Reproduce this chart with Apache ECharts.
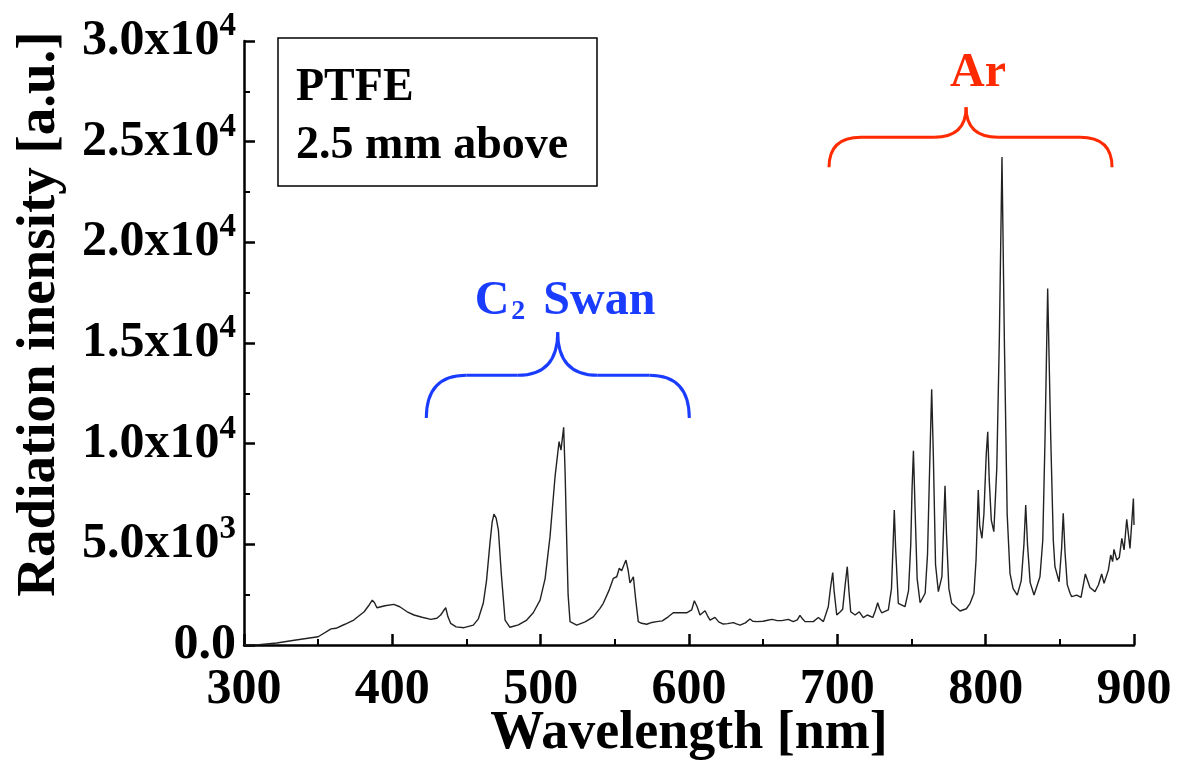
<!DOCTYPE html>
<html>
<head>
<meta charset="utf-8">
<script src="https://cdn.jsdelivr.net/npm/echarts@6/dist/echarts.min.js"></script>
<style>html,body{margin:0;padding:0;background:#fff;}#chart{width:1178px;height:760px;}</style>
</head>
<body>
<div id="chart"></div>
<script>
// ---- data ----
const wavelength = [
300,310,322,335,350,358.7,362,368,374,381,384.5,386.5,388,389.6,395,401,405,410,414.6,420,426,430,432.6,434.5,436,437.5,439.3,443,448.3,454.6,458,461.3,463.5,465.8,467.3,468.5,470,471.5,473.5,476,479.3,485,490.6,495,499.6,503,506.3,509.7,512.4,513.7,515.5,516.5,517.6,518.5,519.8,524.3,530,535.5,540,542.2,546,549,551.3,553,554.6,556,557.5,559,560.2,561.5,562.5,564,565.8,568,571.5,575,578.2,582,586,589.4,595,598.4,601.8,603.6,605.5,607.4,610.8,612.5,614.2,617.5,620,623.1,626,629.9,632,634.4,638,641.1,643,645.6,650,653,655.8,659,662.5,667,670.3,673,674.8,676.5,678.2,683.8,687.2,690.6,693.9,695.5,696.9,697.8,699.6,700.7,702,703.6,705.3,706.7,707.8,709,712,714.8,717.5,720.2,723.9,725.6,727.2,728.5,729.9,734.4,736.5,737.6,738.4,739.3,741.1,745.6,748,749.5,750.4,751.3,752.3,753.8,755.8,759.2,760.8,762.3,763.6,764.7,766.2,768.1,770.5,771.7,772.6,773.6,775.2,777.1,782.7,787,789.5,792.1,793.5,794.3,795,796,797.5,798.8,800.4,801.4,802.4,803.8,805.5,807.5,809.2,811,812.6,814.5,816.4,818.5,821.3,824,825.8,827,828.2,830,832.6,836.6,838.5,840,841.8,843.9,845.6,846.7,849.5,851.2,852.3,853.5,855,856.9,858,861.4,864.3,867.2,870.3,873.7,876,878.2,879.8,882.7,884.3,885.6,886.5,888.4,890.1,891.8,893.3,895.1,897.3,899.6,900
];
const intensity = [
0,10,100,250,410,800,830,1030,1240,1650,2000,2230,2100,1850,1950,2020,1900,1650,1490,1380,1275,1330,1490,1700,1850,1400,1075,900,860,990,1300,2070,3200,5050,6100,6500,6300,5710,3500,1240,880,1000,1240,1600,2230,3300,5380,8360,10100,9680,10810,8500,5050,2500,1160,990,1150,1400,1820,2070,2700,3310,3390,3810,3690,3950,4220,3700,3090,3250,3390,2300,1160,1080,1030,1120,1160,1200,1400,1600,1600,1600,1740,2200,1900,1490,1700,1450,1240,1370,1150,1040,1060,1110,1050,990,1100,1290,1180,1160,1180,1230,1275,1220,1210,1275,1160,1250,1470,1300,1160,1160,1370,1160,1900,2900,3600,2700,1490,1400,1650,1770,3000,3890,2700,1650,1490,1650,1360,1490,1370,1700,2100,1800,1600,1740,2800,5000,6700,4800,2070,1900,2700,5000,7800,9650,7000,3300,2100,2570,4500,9000,12700,9500,4000,2650,3400,6000,7910,5500,2800,2070,1690,1800,2070,2570,4200,6000,7700,5900,5300,6500,9500,10590,8200,6200,5630,8800,15150,24240,15150,6500,3560,2800,2480,3200,5000,6950,5000,3100,2480,3390,5200,10180,17710,10180,5200,3890,3140,4800,6540,4600,3000,2570,2400,2480,2370,3530,2860,2650,2980,3530,3060,3720,4470,4140,4750,4220,4350,5300,4720,6240,4800,7280,5960
];
const xTicks = [300, 400, 500, 600, 700, 800, 900];
const yTicks = [0, 5000, 10000, 15000, 20000, 25000, 30000];
const boxLines = ['PTFE', '2.5 mm above'];
// annotation braces: [xStart, xEnd, xCusp, yEnds, yBar, yCusp] in data units
const braceBlue = [422.9, 600.2, 511.5, 11270, 13400, 15540];
const braceRed = [694.4, 885.2, 786.8, 23730, 25220, 26710];
const labelBlue = {x: 516.4, y: 17050};
const labelRed = {x: 794.8, y: 28400};

const FONT = '"Liberation Serif", "Times New Roman", serif';
const BLUE = '#1a3cff';
const RED = '#ff2a00';

const seriesData = wavelength.map((w, i) => [w, intensity[i]]);

function yFmt(v) {
  if (v === 0) return '0.0';
  const e = Math.floor(Math.log10(v) + 1e-9);
  const m = (v / Math.pow(10, e)).toFixed(1);
  return m + 'x10{sup|' + e + '}';
}

const chart = echarts.init(document.getElementById('chart'));
chart.setOption({
  animation: false,
  backgroundColor: '#fff',
  grid: {left: 244, right: 44, top: 41, bottom: 115, containLabel: false, outerBoundsMode: 'none'},
  xAxis: {
    type: 'value', min: xTicks[0], max: xTicks[xTicks.length - 1], interval: 100,
    name: 'Wavelength [nm]', nameLocation: 'middle', nameGap: 89, nameMoveOverlap: false,
    nameTextStyle: {fontFamily: FONT, fontWeight: 'bold', fontSize: 54, color: '#000', verticalAlign: 'middle'},
    axisLine: {show: true, lineStyle: {color: '#000', width: 2.5}},
    axisTick: {show: true, inside: true, length: 11, lineStyle: {color: '#000', width: 2.5}},
    minorTick: {show: true, splitNumber: 2, length: 6, lineStyle: {color: '#000', width: 2}},
    splitLine: {show: false},
    axisLabel: {fontFamily: FONT, fontWeight: 'bold', fontSize: 50, color: '#000', margin: 20}
  },
  yAxis: {
    type: 'value', min: yTicks[0], max: yTicks[yTicks.length - 1], interval: 5000,
    axisLine: {show: true, lineStyle: {color: '#000', width: 2.5}},
    axisTick: {show: true, inside: true, length: 11, lineStyle: {color: '#000', width: 2.5}},
    minorTick: {show: true, splitNumber: 2, length: 6, lineStyle: {color: '#000', width: 2}},
    splitLine: {show: false},
    axisLabel: {
      fontFamily: FONT, fontWeight: 'bold', fontSize: 50, color: '#000', margin: 8,
      lineHeight: 62, formatter: yFmt,
      rich: {sup: {fontFamily: FONT, fontWeight: 'bold', fontSize: 33, color: '#000', verticalAlign: 'top', lineHeight: 30}}
    }
  },
  series: [{
    type: 'line', data: seriesData, showSymbol: false, symbol: 'none',
    lineStyle: {color: '#222', width: 1.4}, clip: true
  }]
});

function px(x, y) { return chart.convertToPixel({gridIndex: 0}, [x, y]); }
function braceParts(b, r, color) {
  const [xs, xe, xc, yEnd, yBar, yTip] = b;
  const A = px(xs, yEnd), B = px(xs, yBar), C = px(xc, yTip), D = px(xe, yEnd);
  const y1 = A[1], y2 = B[1], y3 = C[1];
  const x1 = A[0], x2 = D[0], xm = C[0];
  const st = {stroke: color, lineWidth: 3, fill: 'none'};
  return [
    {type: 'bezierCurve', shape: {x1: x1, y1: y1, cpx1: x1, cpy1: y2, x2: x1 + r, y2: y2}, style: st},
    {type: 'line', shape: {x1: x1 + r, y1: y2, x2: xm - r, y2: y2}, style: st},
    {type: 'bezierCurve', shape: {x1: xm - r, y1: y2, cpx1: xm, cpy1: y2, x2: xm, y2: y3}, style: st},
    {type: 'bezierCurve', shape: {x1: xm, y1: y3, cpx1: xm, cpy1: y2, x2: xm + r, y2: y2}, style: st},
    {type: 'line', shape: {x1: xm + r, y1: y2, x2: x2 - r, y2: y2}, style: st},
    {type: 'bezierCurve', shape: {x1: x2 - r, y1: y2, cpx1: x2, cpy1: y2, x2: x2, y2: y1}, style: st}
  ];
}
const lb = px(labelBlue.x, labelBlue.y);
const lr = px(labelRed.x, labelRed.y);
const graphics = [].concat(
  braceParts(braceBlue, 40, BLUE),
  braceParts(braceRed, 32, RED),
  [
    {type: 'text', x: lb[0], y: lb[1], style: {
      text: 'C{sub|2} Swan', fill: BLUE, font: 'bold 48px ' + FONT, align: 'center', verticalAlign: 'middle',
      rich: {sub: {fontFamily: FONT, fontWeight: 'bold', fontSize: 28, fill: BLUE, verticalAlign: 'bottom', lineHeight: 24, padding: [0, 6, 0, 2]}}
    }},
    {type: 'text', x: lr[0], y: lr[1], style: {text: 'Ar', fill: RED, font: 'bold 48px ' + FONT, align: 'center', verticalAlign: 'middle'}},
    {type: 'rect', shape: {x: 278, y: 38, width: 319, height: 148}, style: {fill: '#fff', stroke: '#000', lineWidth: 1.5}},
    {type: 'text', x: 296, y: 88, style: {text: boxLines[0], fill: '#000', font: 'bold 46px ' + FONT, align: 'left', verticalAlign: 'middle'}},
    {type: 'text', x: 296, y: 146, style: {text: boxLines[1], fill: '#000', font: 'bold 46px ' + FONT, align: 'left', verticalAlign: 'middle'}},
    {type: 'text', x: 40, y: 314, rotation: Math.PI / 2, style: {text: 'Radiation inensity [a.u.]', fill: '#000', font: 'bold 55px ' + FONT, align: 'center', verticalAlign: 'middle'}}
  ]
);
chart.setOption({graphic: graphics});
</script>
</body>
</html>
